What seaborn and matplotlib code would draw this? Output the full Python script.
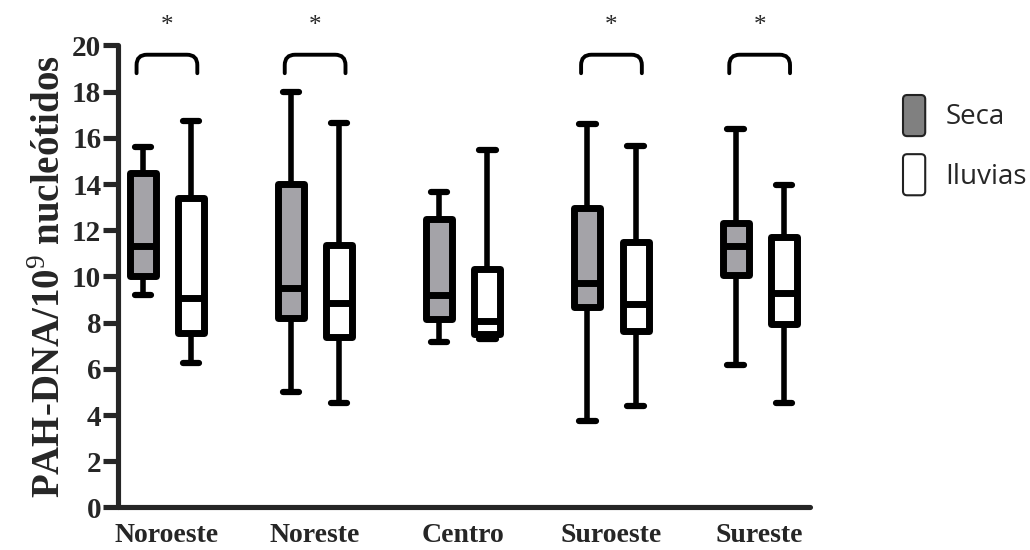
import matplotlib
matplotlib.use("Agg")
import matplotlib.pyplot as plt
import seaborn as sns
import numpy as np
import pandas as pd
from matplotlib.path import Path
from matplotlib.patches import PathPatch, Patch, FancyBboxPatch
from matplotlib.legend_handler import HandlerPatch

# --- datos (min, Q1, mediana, Q3, max) ---
regiones = ["Noroeste", "Noreste", "Centro", "Suroeste", "Sureste"]
estaciones = ["Seca", "Iluvias"]

seca_min = [9.2, 5.0, 7.15, 3.75, 6.15]
seca_q1 = [10.0, 8.2, 8.17, 8.67, 10.05]
seca_med = [11.3, 9.5, 9.2, 9.7, 11.3]
seca_q3 = [14.5, 14.0, 12.5, 12.97, 12.3]
seca_max = [15.6, 18.0, 13.64, 16.6, 16.4]

lluv_min = [6.27, 4.52, 7.3, 4.41, 4.52]
lluv_q1 = [7.56, 7.38, 7.53, 7.63, 7.95]
lluv_med = [9.08, 8.87, 8.06, 8.82, 9.28]
lluv_q3 = [13.38, 11.38, 10.34, 11.48, 11.71]
lluv_max = [16.73, 16.65, 15.47, 15.63, 13.96]

significativo = [True, True, False, True, True]

# --- tabla larga: 5 valores por caja (cuantiles exactos con 5 puntos) ---
filas = []
for i, reg in enumerate(regiones):
    for v in (seca_min[i], seca_q1[i], seca_med[i], seca_q3[i], seca_max[i]):
        filas.append((reg, "Seca", v))
    for v in (lluv_min[i], lluv_q1[i], lluv_med[i], lluv_q3[i], lluv_max[i]):
        filas.append((reg, "Iluvias", v))
df = pd.DataFrame(filas, columns=["region", "estacion", "valor"])

sns.set_style("ticks")
plt.rcParams["font.family"] = ["Liberation Serif", "DejaVu Serif"]
plt.rcParams["mathtext.fontset"] = "custom"
plt.rcParams["mathtext.rm"] = "Liberation Serif"

colores = {"Seca": "#a4a3a8", "Iluvias": "white"}

fig = plt.figure(figsize=(10.3, 5.5), dpi=100)
ax = fig.add_axes([0.1146, 0.0773, 0.786 - 0.1146, 0.9173 - 0.0773])

sns.boxplot(
    data=df, x="region", y="valor", hue="estacion",
    order=regiones, hue_order=estaciones,
    palette=colores, saturation=1, linecolor="black", linewidth=5,
    width=0.65, gap=0.46, whis=(0, 100),
    capwidths=0.11, legend=False, ax=ax,
    boxprops=dict(joinstyle="round"),
    capprops=dict(solid_capstyle="round", linewidth=4.5),
    whiskerprops=dict(solid_capstyle="butt", linewidth=4),
    medianprops=dict(solid_capstyle="butt"),
)

ax.set_ylim(0, 20)
ax.set_xlim(-0.33, 4.337)
ax.set_yticks(np.arange(0, 21, 2))
for s in ["top", "right"]:
    ax.spines[s].set_visible(False)
for s in ["left", "bottom"]:
    ax.spines[s].set_linewidth(3.7)
    ax.spines[s].set_capstyle("round")
ax.spines["left"].set_bounds(0, 20)

ax.tick_params(axis="y", length=11, width=3.7, pad=1, labelsize=21)
ax.tick_params(axis="x", length=0, pad=11, labelsize=20)
for lab in ax.get_yticklabels() + ax.get_xticklabels():
    lab.set_fontweight("bold")

ax.set_xlabel("")
ax.set_ylabel(r"PAH-DNA/10$^{9}$ nucleótidos", fontsize=28, fontweight="bold", labelpad=2)

# --- corchetes de significancia ---
y_bot, y_top, rx, ry, half = 18.8, 19.6, 0.07, 0.45, 0.205
for i, sig in enumerate(significativo):
    if not sig:
        continue
    x0, x1 = i - half, i + half
    verts = [(x0, y_bot), (x0, y_top - ry), (x0, y_top), (x0 + rx, y_top),
             (x1 - rx, y_top), (x1, y_top), (x1, y_top - ry), (x1, y_bot)]
    codes = [Path.MOVETO, Path.LINETO, Path.CURVE3, Path.CURVE3,
             Path.LINETO, Path.CURVE3, Path.CURVE3, Path.LINETO]
    ax.add_patch(PathPatch(Path(verts, codes), fill=False, lw=2.8,
                           edgecolor="black", capstyle="round", clip_on=False))
    ax.text(i, 20.85, "*", ha="center", va="center", fontsize=18, clip_on=False)


# --- leyenda ---
def caja_redonda(legend, orig_handle, xdescent, ydescent, width, height, fontsize):
    return FancyBboxPatch((-xdescent, -ydescent), width, height,
                          boxstyle="round,pad=0,rounding_size=3")


handles = [Patch(facecolor="#808080", edgecolor="#222222", lw=1.5, label="Seca"),
           Patch(facecolor="white", edgecolor="#222222", lw=1.5, label="Iluvias")]
fig.legend(handles=handles, loc="upper left", bbox_to_anchor=(903 / 1030, 1 - 95 / 550),
           frameon=False, borderpad=0, borderaxespad=0, handlelength=0.8, handleheight=1.9,
           handletextpad=0.72, labelspacing=0.65,
           prop={"family": "Open Sans", "size": 20},
           handler_map={Patch: HandlerPatch(patch_func=caja_redonda)})

fig.savefig("out.png", dpi=100)
